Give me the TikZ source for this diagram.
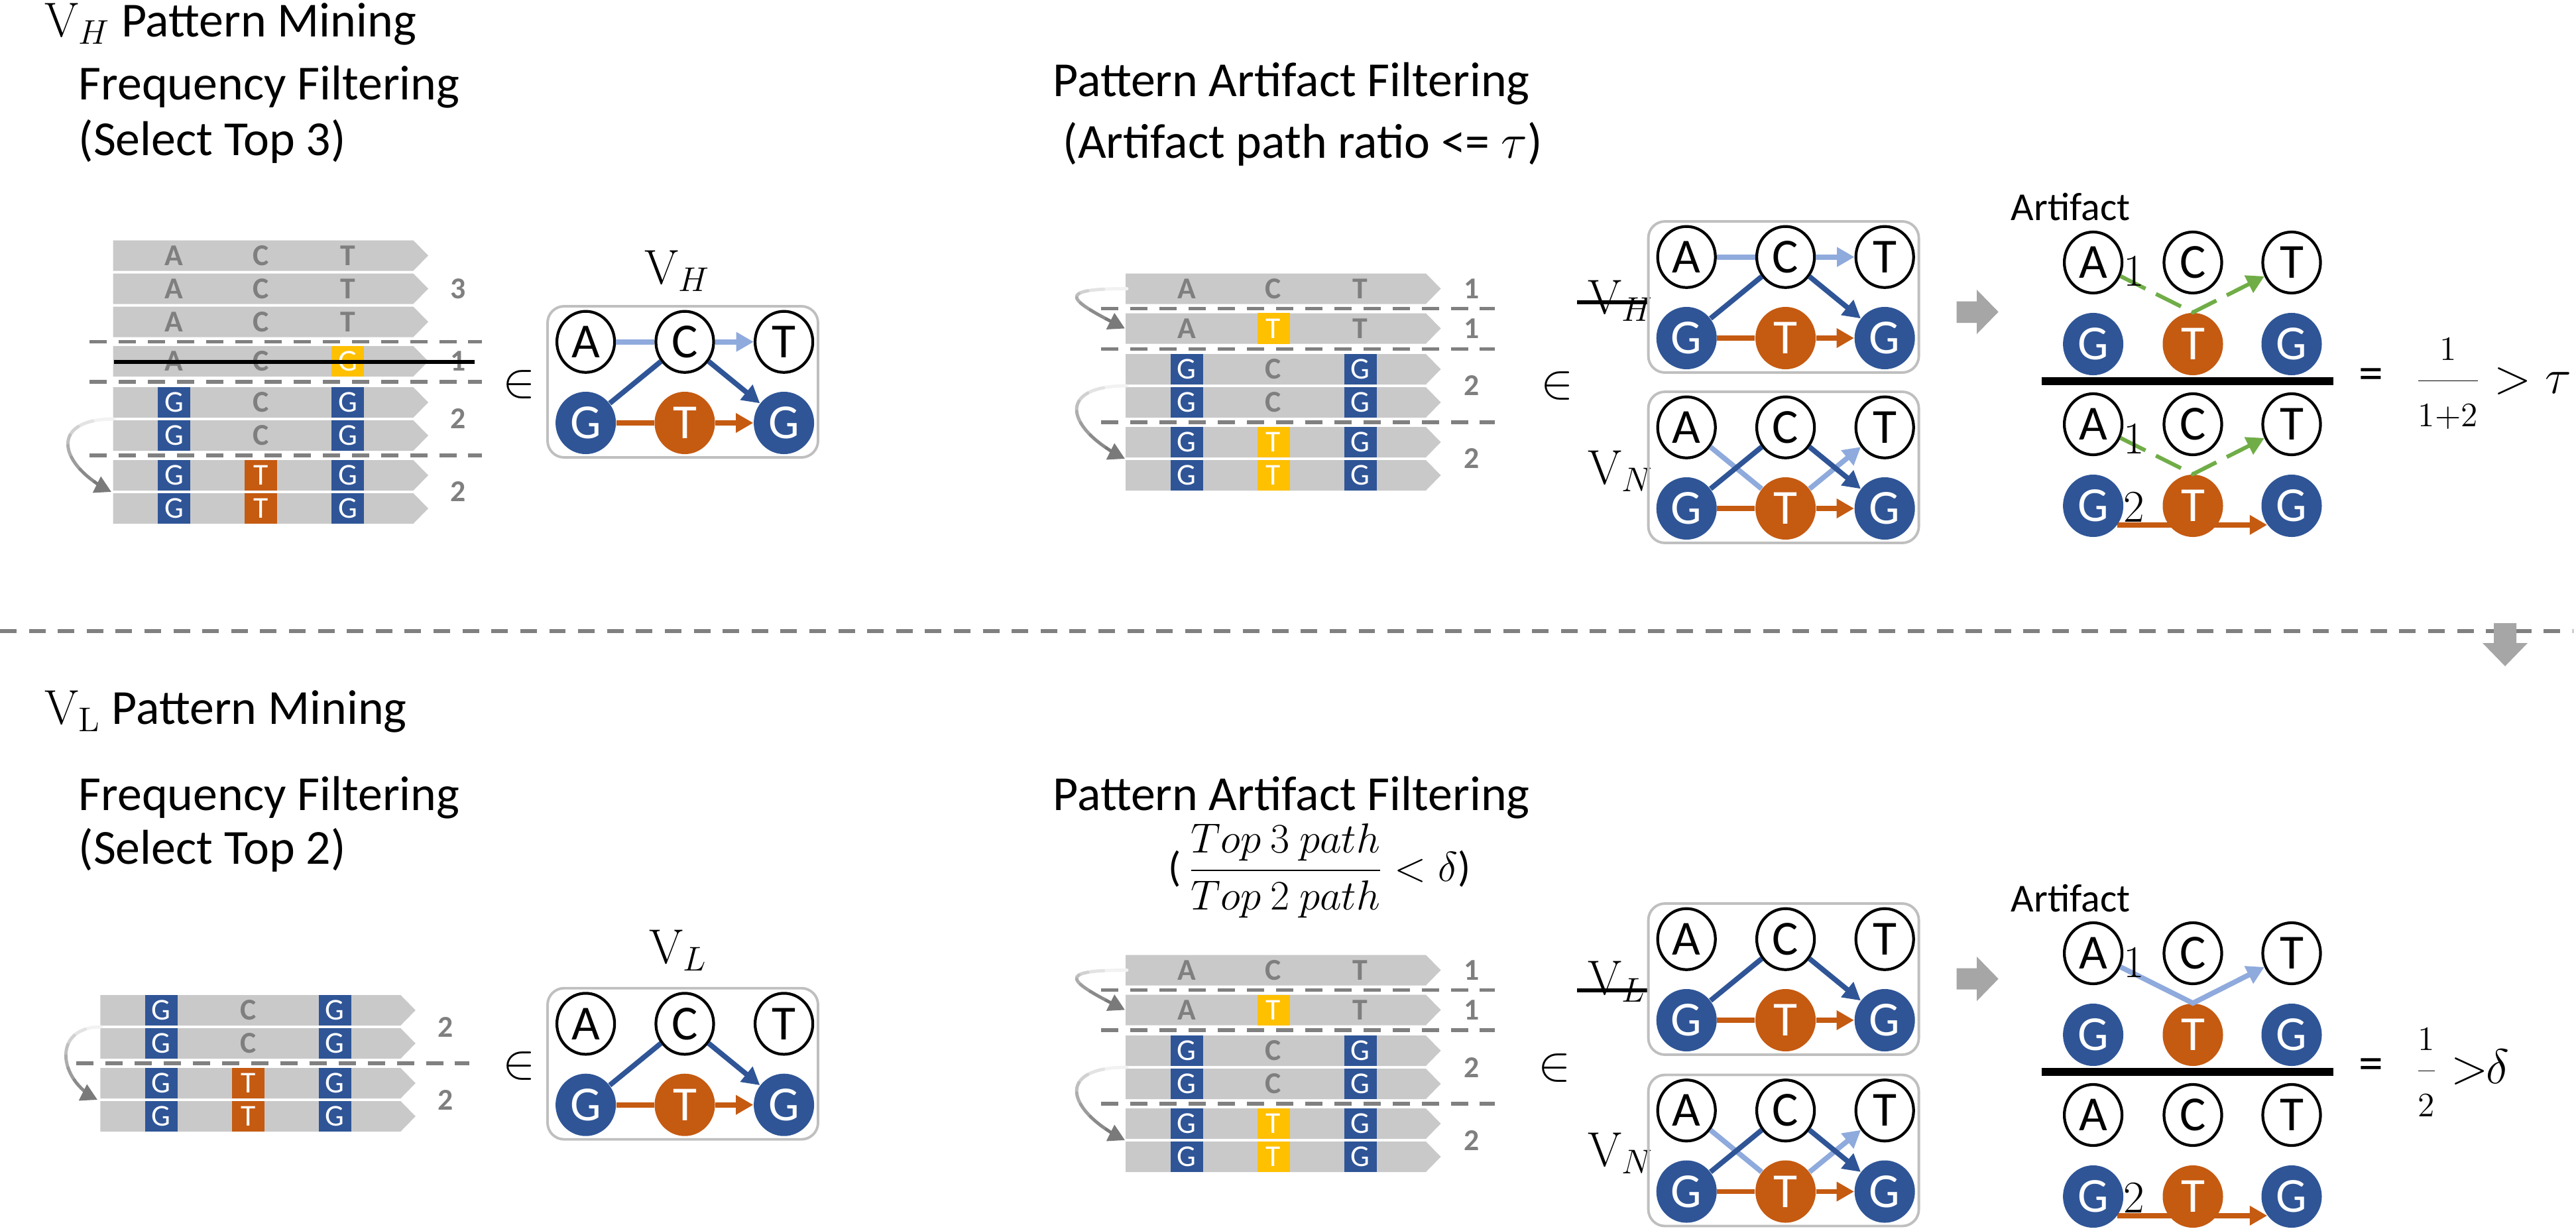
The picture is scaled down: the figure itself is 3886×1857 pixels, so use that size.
\RequirePackage{fix-cm}
\documentclass[tikz,border=0pt]{standalone}
\usepackage[no-math]{fontspec}
\setmainfont{Carlito}
\usetikzlibrary{arrows.meta,shapes.geometric,calc}
\pgfdeclarelayer{bg}
\pgfsetlayers{bg,main}
\definecolor{dblue}{HTML}{2F5597}
\definecolor{lblue}{HTML}{8FAADC}
\definecolor{orng}{HTML}{C55A11}
\definecolor{yel}{HTML}{FFC000}
\definecolor{grn}{HTML}{70AD47}
\definecolor{barfill}{HTML}{C9C9C9}
\definecolor{bartext}{HTML}{7F7F7F}
\definecolor{boxline}{HTML}{BFBFBF}
\definecolor{blockgray}{HTML}{A6A6A6}
\definecolor{dashgray}{HTML}{808080}
\newcounter{cellc}
\tikzset{
 bigtxt/.style={font=\fontsize{21}{25}\selectfont, inner sep=0pt},
 midtxt/.style={font=\fontsize{17}{20}\selectfont, inner sep=0pt},
 wn/.style={ellipse, draw=black, line width=1.2pt, fill=white, minimum width=0.87cm, minimum height=0.92cm, inner sep=0pt, font=\fontsize{21}{25}\selectfont},
 bnode/.style={ellipse, fill=dblue, text=white, minimum width=0.91cm, minimum height=0.94cm, inner sep=0pt, font=\fontsize{21}{25}\selectfont},
 onode/.style={bnode, fill=orng},
 gbox/.style={draw=boxline, line width=1.1pt, rounded corners=0.25cm},
 arr/.style={-{Triangle[length=7.5pt,width=8pt]}},
 lbe/.style={draw=lblue, line width=2.2pt},
 dbe/.style={draw=dblue, line width=2.2pt},
 ore/.style={draw=orng, line width=2.2pt},
 gre/.style={draw=grn, line width=1.7pt, dash pattern=on 12pt off 5pt},
 gl/.style={text=bartext, font=\fontsize{13}{15}\selectfont\bfseries, inner sep=0pt},
 bsq/.style={fill=dblue, text=white, minimum width=0.49cm, minimum height=0.46cm, inner sep=0pt, font=\fontsize{13}{15}\selectfont},
 ysq/.style={bsq, fill=yel},
 osq/.style={bsq, fill=orng},
 cnt/.style={text=bartext, font=\fontsize{13}{15}\selectfont\bfseries, inner sep=0pt},
 bardash/.style={draw=dashgray, line width=1.6pt, dash pattern=on 7.5pt off 5pt},
 mathbig/.style={font=\fontsize{21}{25}\selectfont, inner sep=0pt},
 artnum/.style={font=\fontsize{19.5}{23}\selectfont, inner sep=0pt},
 strike/.style={draw=black, line width=1.7pt},
}
\newcommand\seqbar[2]{\fill[barfill] (#1,#2-23) -- ++(453,0) -- ++(22.5,23) -- ++(-22.5,23) -- ++(-453,0) -- cycle;}
\newcommand\cellnode[4]{\stepcounter{cellc}\node[#3] (cell\arabic{cellc}) at (#1,#2) {#4};}
\newcommand\seqrow[8]{\seqbar{#1}{#2}\cellnode{#1+92}{#2}{#3}{#4}\cellnode{#1+223}{#2}{#5}{#6}\cellnode{#1+354}{#2}{#7}{#8}}
\newcommand\graphbox[3]{%
 \draw[gbox] (#2,#3) rectangle ++(408,228);
 \node[wn] (#1A) at (#2+57.6,#3+53.7) {A};
 \node[wn] (#1C) at (#2+207,#3+53.7) {C};
 \node[wn] (#1T) at (#2+356.6,#3+53.7) {T};
 \node[bnode] (#1G) at (#2+57.6,#3+176) {G};
 \node[onode] (#1O) at (#2+207,#3+176) {T};
 \node[bnode] (#1H) at (#2+356.6,#3+176) {G};}
\newcommand\edgesH[1]{%
 \draw[lbe] (#1A) -- (#1C); \draw[lbe,arr] (#1C) -- (#1T);
 \draw[dbe] (#1G) -- (#1C); \draw[dbe,arr] (#1C) -- (#1H);
 \draw[ore] (#1G) -- (#1O); \draw[ore,arr] (#1O) -- (#1H);}
\newcommand\edgesN[1]{%
 \draw[lbe] (#1A) -- (#1O); \draw[lbe,arr] (#1O) -- (#1T);
 \draw[dbe] (#1G) -- (#1C); \draw[dbe,arr] (#1C) -- (#1H);
 \draw[ore] (#1G) -- (#1O); \draw[ore,arr] (#1O) -- (#1H);}
\newcommand\edgesL[1]{%
 \draw[dbe] (#1G) -- (#1C); \draw[dbe,arr] (#1C) -- (#1H);
 \draw[ore] (#1G) -- (#1O); \draw[ore,arr] (#1O) -- (#1H);}
\newcommand\artnodes[2]{%
 \node[wn] (#1A) at (3157.6,#2) {A};
 \node[wn] (#1C) at (3308,#2) {C};
 \node[wn] (#1T) at (3457,#2) {T};
 \node[bnode] (#1G) at (3157.6,#2+123) {G};
 \node[onode] (#1O) at (3308,#2+123) {T};
 \node[bnode] (#1H) at (3457,#2+123) {G};}
\newcommand\grayarc[6]{%
 \coordinate (#1s) at (#2,#3);
 \coordinate (#1e) at (#4,#5);
 \foreach \ta/\tb/\cc in {0/0.125/5,0.125/0.25/11,0.25/0.375/18,0.375/0.5/25,0.5/0.625/32,0.625/0.75/39,0.75/0.875/46}{%
  \begin{pgfscope}
   \pgfsetlinewidth{1.4pt}\pgfsetroundcap\pgfsetstrokecolor{black!\cc}%
   \pgfpathcurvebetweentime{\ta}{\tb}{\pgfpointanchor{#1s}{center}}{\pgfpointadd{\pgfpointanchor{#1s}{center}}{\pgfpointxy{-#6}{0}}}{\pgfpointadd{\pgfpointanchor{#1e}{center}}{\pgfpointxy{-0.8*#6}{-0.4*#6}}}{\pgfpointanchor{#1e}{center}}%
   \pgfusepath{stroke}%
  \end{pgfscope}}
 \begin{pgfscope}
  \pgfsetlinewidth{1.4pt}\pgfsetstrokecolor{black!52}\pgfsetfillcolor{black!52}%
  \pgfsetarrowsend{Triangle[length=7pt,width=7.5pt]}%
  \pgfpathcurvebetweentime{0.875}{1}{\pgfpointanchor{#1s}{center}}{\pgfpointadd{\pgfpointanchor{#1s}{center}}{\pgfpointxy{-#6}{0}}}{\pgfpointadd{\pgfpointanchor{#1e}{center}}{\pgfpointxy{-0.8*#6}{-0.4*#6}}}{\pgfpointanchor{#1e}{center}}%
  \pgfusepath{stroke}%
 \end{pgfscope}}
\begin{document}
\begin{tikzpicture}[x=0.01cm,y=-0.01cm]
\begin{pgfonlayer}{bg}
\fill[white] (0,0) rectangle (3886,1857);
\end{pgfonlayer}
\useasboundingbox (0,0) rectangle (3886,1857);

% ================= TOP =================
\node[bigtxt, anchor=base west] (ttl1) at (67,55) {$\mathrm{V}_{H}$ Pattern Mining};
\node[bigtxt, anchor=base west] (ff1) at (118,150) {Frequency Filtering};
\node[bigtxt, anchor=base west] (st1) at (118,234) {(Select Top 3)};
\node[bigtxt, anchor=base west] (paf1) at (1588,145) {Pattern Artifact Filtering};
\node[bigtxt, anchor=base west] (apr1) at (1603,238) {(Artifact path ratio <= $\tau$)};

% top-left reads
\seqrow{170.5}{385.5}{gl}{A}{gl}{C}{gl}{T}
\seqrow{170.5}{435.5}{gl}{A}{gl}{C}{gl}{T}
\seqrow{170.5}{485.5}{gl}{A}{gl}{C}{gl}{T}
\seqrow{170.5}{545}{gl}{A}{gl}{C}{ysq}{G}
\seqrow{170.5}{607}{bsq}{G}{gl}{C}{bsq}{G}
\seqrow{170.5}{657}{bsq}{G}{gl}{C}{bsq}{G}
\seqrow{170.5}{717}{bsq}{G}{osq}{T}{bsq}{G}
\seqrow{170.5}{767}{bsq}{G}{osq}{T}{bsq}{G}
\draw[bardash] (135,515.5) -- (727,515.5);
\draw[bardash] (135,576) -- (727,576);
\draw[bardash] (135,687) -- (727,687);
\node[cnt] (k1) at (691.5,435.5) {3};
\node[cnt] (k2) at (691.5,545) {1};
\node[cnt] (k3) at (691.5,632) {2};
\node[cnt] (k4) at (691.5,742) {2};
\coordinate (stka) at (172,546);
\coordinate (stkb) at (716,546);
\draw[draw=black, line width=1.5pt] (stka) -- (stkb);
\grayarc{gaa}{172}{632}{168}{742}{100}
\node[mathbig] (in1) at (783,580) {$\in$};
\node[mathbig, anchor=base west] (vh1) at (972,428) {$\mathrm{V}_{H}$};
\graphbox{p}{826}{462}
\edgesH{p}

% top-middle reads
\seqrow{1698}{435.5}{gl}{A}{gl}{C}{gl}{T}
\seqrow{1698}{495.5}{gl}{A}{ysq}{T}{gl}{T}
\seqrow{1698}{557}{bsq}{G}{gl}{C}{bsq}{G}
\seqrow{1698}{607}{bsq}{G}{gl}{C}{bsq}{G}
\seqrow{1698}{667}{bsq}{G}{ysq}{T}{bsq}{G}
\seqrow{1698}{717}{bsq}{G}{ysq}{T}{bsq}{G}
\draw[bardash] (1661,465.5) -- (2255,465.5);
\draw[bardash] (1661,526.5) -- (2255,526.5);
\draw[bardash] (1661,637) -- (2255,637);
\node[cnt] (k5) at (2220.5,435.5) {1};
\node[cnt] (k6) at (2220.5,495.5) {1};
\node[cnt] (k7) at (2220.5,582) {2};
\node[cnt] (k8) at (2220.5,692) {2};
\grayarc{gab}{1700}{435.5}{1697}{495.5}{110}
\grayarc{gac}{1700}{582}{1697}{692}{110}
\node[mathbig] (in2) at (2349,582) {$\in$};

% top-right graphs
\node[mathbig, anchor=base west] (vh2) at (2395,473.6) {$\mathrm{V}_{H}$};
\coordinate (skAa) at (2379,455.6);
\coordinate (skAb) at (2488,455.6);
\draw[strike] (skAa) -- (skAb);
\graphbox{q}{2486.6}{334}
\edgesH{q}
\node[mathbig, anchor=base west] (vn1) at (2395,730) {$\mathrm{V}_{N}$};
\graphbox{r}{2486.6}{591}
\edgesN{r}

\fill[blockgray] (2951.6,454.5) -- (2982,454.5) -- (2982,437) -- (3014.7,470.5) -- (2982,504) -- (2982,487) -- (2951.6,487) -- cycle;

% top artifact
\node[midtxt, anchor=base west] (art1) at (3033,332) {Artifact};
\artnodes{fa}{396}
\artnodes{fb}{640}
\draw[gre,arr] (faA) -- (faO.north) -- (faT);
\draw[gre,arr] (fbA) -- (fbO.north) -- (fbT);
\begin{pgfonlayer}{bg}
\draw[ore,arr] (fbG.-38) -- (fbH.-142);
\end{pgfonlayer}
\node[artnum, anchor=base west] (na1) at (3203,431.5) {$1$};
\node[artnum, anchor=base west] (na2) at (3203,684) {$1$};
\node[artnum, anchor=base west] (na3) at (3203,787) {$2$};
\coordinate (dvAa) at (3080,575);
\coordinate (dvAb) at (3520,575);
\draw[line width=3.3pt] (dvAa) -- (dvAb);
\node[bigtxt] (eq1) at (3577,572) {=};
\node[anchor=base west, font=\fontsize{21}{25}\selectfont, inner sep=0pt] (fr1) at (3643,593) {$\displaystyle\frac{\scriptstyle 1}{\scriptstyle 1+2}>\tau$};

% separator
\draw[draw=dashgray, line width=1.7pt, dash pattern=on 7.1pt off 5.3pt] (0,952) -- (3882,952);
\fill[blockgray] (3762,940) -- (3796,940) -- (3796,970) -- (3813,970) -- (3779,1005) -- (3745,970) -- (3762,970) -- cycle;

% ================= BOTTOM =================
\node[bigtxt, anchor=base west] (ttl2) at (67,1092) {$\mathrm{V}_{\mathrm{L}}$ Pattern Mining};
\node[bigtxt, anchor=base west] (ff2) at (118,1222) {Frequency Filtering};
\node[bigtxt, anchor=base west] (st2) at (118,1303) {(Select Top 2)};
\node[bigtxt, anchor=base west] (paf2) at (1588,1222) {Pattern Artifact Filtering};
\node[anchor=base west, font=\fontsize{18}{21}\selectfont, inner sep=0pt] (frc) at (1762,1329) {(\,$\displaystyle\frac{Top\ 3\ path}{Top\ 2\ path}<\delta$)};

% bottom-left reads
\seqrow{151.3}{1524}{bsq}{G}{gl}{C}{bsq}{G}
\seqrow{151.3}{1574}{bsq}{G}{gl}{C}{bsq}{G}
\seqrow{151.3}{1634}{bsq}{G}{osq}{T}{bsq}{G}
\seqrow{151.3}{1684}{bsq}{G}{osq}{T}{bsq}{G}
\draw[bardash] (115,1604) -- (708,1604);
\node[cnt] (k9) at (672,1549) {2};
\node[cnt] (k10) at (672,1659) {2};
\grayarc{gad}{153}{1549}{147}{1659}{75}
\node[mathbig] (in3) at (783,1608) {$\in$};
\node[mathbig, anchor=base west] (vl1) at (979,1453) {$\mathrm{V}_{L}$};
\graphbox{s}{826}{1490.7}
\edgesL{s}

% bottom-middle reads
\seqrow{1698}{1463.5}{gl}{A}{gl}{C}{gl}{T}
\seqrow{1698}{1523.5}{gl}{A}{ysq}{T}{gl}{T}
\seqrow{1698}{1585}{bsq}{G}{gl}{C}{bsq}{G}
\seqrow{1698}{1635}{bsq}{G}{gl}{C}{bsq}{G}
\seqrow{1698}{1695}{bsq}{G}{ysq}{T}{bsq}{G}
\seqrow{1698}{1745}{bsq}{G}{ysq}{T}{bsq}{G}
\draw[bardash] (1661,1493.5) -- (2255,1493.5);
\draw[bardash] (1661,1554) -- (2255,1554);
\draw[bardash] (1661,1665) -- (2255,1665);
\node[cnt] (k11) at (2220.5,1463.5) {1};
\node[cnt] (k12) at (2220.5,1523.5) {1};
\node[cnt] (k13) at (2220.5,1610) {2};
\node[cnt] (k14) at (2220.5,1720) {2};
\grayarc{gae}{1700}{1463.5}{1697}{1523.5}{110}
\grayarc{gaf}{1700}{1610}{1697}{1720}{110}
\node[mathbig] (in4) at (2345,1611) {$\in$};

% bottom-right graphs
\node[mathbig, anchor=base west] (vl2) at (2395,1500.8) {$\mathrm{V}_{L}$};
\coordinate (skBa) at (2379,1493.5);
\coordinate (skBb) at (2488,1493.5);
\draw[strike] (skBa) -- (skBb);
\graphbox{u}{2486.6}{1363}
\edgesL{u}
\node[mathbig, anchor=base west] (vn2) at (2395,1759) {$\mathrm{V}_{N}$};
\graphbox{w}{2486.6}{1621.5}
\edgesN{w}

\fill[blockgray] (2951.6,1460.5) -- (2982,1460.5) -- (2982,1443) -- (3014.7,1476.6) -- (2982,1510.2) -- (2982,1492.7) -- (2951.6,1492.7) -- cycle;

% bottom artifact
\node[midtxt, anchor=base west] (art2) at (3033,1375) {Artifact};
\artnodes{fc}{1438}
\artnodes{fd}{1682}
\draw[lbe,arr] (fcA) -- (fcO.north) -- (fcT);
\begin{pgfonlayer}{bg}
\draw[ore,arr] (fdG.-38) -- (fdH.-142);
\end{pgfonlayer}
\node[artnum, anchor=base west] (nb1) at (3203,1474) {$1$};
\node[artnum, anchor=base west] (nb2) at (3203,1829) {$2$};
\coordinate (dvBa) at (3080,1616.7);
\coordinate (dvBb) at (3520,1616.7);
\draw[line width=3.3pt] (dvBa) -- (dvBb);
\node[bigtxt] (eq2) at (3577,1613) {=};
\node[anchor=base west, font=\fontsize{21}{25}\selectfont, inner sep=0pt] (fr2) at (3643,1634) {$\displaystyle\frac{\scriptstyle 1}{\scriptstyle 2}>\!\!\delta$};
\end{tikzpicture}
\end{document}
